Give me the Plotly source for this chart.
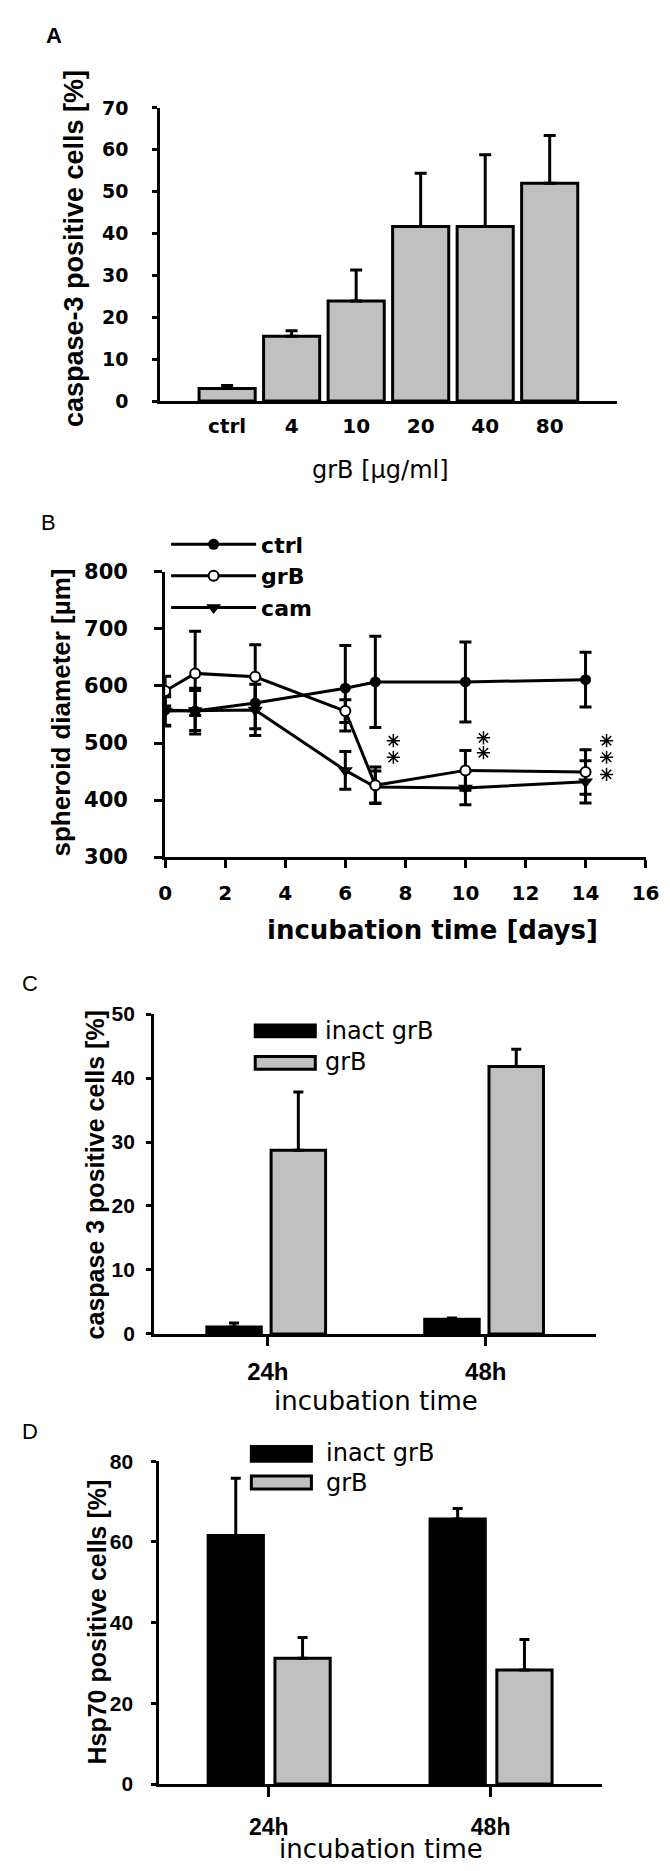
import plotly.graph_objects as go

W, H = 670, 1871

# ---------------- data ----------------
# Panel A
doses = ["ctrl", "4", "10", "20", "40", "80"]
casp_mean = [3.0, 15.5, 23.9, 41.7, 41.7, 52.0]
casp_sd = [0.7, 1.3, 7.4, 12.7, 17.1, 11.4]

# Panel B
days = [0, 1, 3, 6, 7, 10, 14]
ctrl_diam = [558, 556, 570, 596, 607, 607, 611]
ctrl_err = [28, 40, 45, 75, 80, 70, 48]
grb_diam = [591, 622, 616, 556, 426, 452, 449]
grb_err = [26, 74, 56, 20, 32, 35, 39]
cam_diam = [556, 557, 558, 452, 423, 421, 432]
cam_err = [25, 35, 45, 33, 28, 29, 37]
series_names = ["ctrl", "grB", "cam"]
star_days = [7.6, 7.6, 10.6, 10.6, 14.7, 14.7, 14.7]
star_vals = [504, 475, 509, 483, 504, 475, 445]

# Panel C
times = ["24h", "48h"]
c_inact = [1.1, 2.3]
c_inact_err = [0.6, 0.2]
c_grb = [28.7, 41.8]
c_grb_err = [9.1, 2.7]

# Panel D
d_inact = [61.6, 65.7]
d_inact_err = [14.2, 2.6]
d_grb = [31.2, 28.3]
d_grb_err = [5.1, 7.5]

bar_names = ["inact grB", "grB"]

GREY = "#c0c0c0"
BLACK = "black"


def fx(px):
    return px / W


def fy(py):
    return 1 - py / H


fig = go.Figure()

# ---------------- Panel A ----------------
fig.add_trace(go.Bar(
    x=doses, y=casp_mean, xaxis="x", yaxis="y", width=0.87,
    marker=dict(color=GREY, line=dict(color=BLACK, width=3)),
    error_y=dict(type="data", symmetric=False, array=casp_sd,
                 arrayminus=[0] * len(casp_sd), color=BLACK, thickness=3, width=6),
    showlegend=False,
))

# ---------------- Panel B ----------------
line_style = dict(color=BLACK, width=3)
err_style = dict(color=BLACK, thickness=3, width=6)
fig.add_trace(go.Scatter(
    x=days, y=ctrl_diam, xaxis="x2", yaxis="y2", mode="lines+markers",
    name=series_names[0], legendrank=1,
    line=line_style, marker=dict(symbol="circle", size=11, color=BLACK),
    error_y=dict(type="data", array=ctrl_err, **err_style),
))
fig.add_trace(go.Scatter(
    x=days, y=cam_diam, xaxis="x2", yaxis="y2", mode="lines+markers",
    name=series_names[2], legendrank=3,
    line=line_style, marker=dict(symbol="triangle-down", size=13, color=BLACK),
    error_y=dict(type="data", array=cam_err, **err_style),
))
fig.add_trace(go.Scatter(
    x=days, y=grb_diam, xaxis="x2", yaxis="y2", mode="lines+markers",
    name=series_names[1], legendrank=2,
    line=line_style, marker=dict(symbol="circle", size=10, color="white",
                                 line=dict(color=BLACK, width=2)),
    error_y=dict(type="data", array=grb_err, **err_style),
))
fig.add_trace(go.Scatter(
    x=star_days, y=star_vals, xaxis="x2", yaxis="y2", mode="markers",
    marker=dict(symbol="asterisk-open", size=11, color=BLACK,
                line=dict(color=BLACK, width=1.5)),
    showlegend=False, hoverinfo="skip",
))

# ---------------- Panel C ----------------
fig.add_trace(go.Bar(
    x=times, y=c_inact, xaxis="x3", yaxis="y3", offset=-0.28, width=0.25,
    name=bar_names[0], marker=dict(color=BLACK, line=dict(color=BLACK, width=3)),
    error_y=dict(type="data", symmetric=False, array=c_inact_err, arrayminus=[0, 0],
                 color=BLACK, thickness=3, width=5),
    showlegend=False,
))
fig.add_trace(go.Bar(
    x=times, y=c_grb, xaxis="x3", yaxis="y3", offset=0.015, width=0.25,
    name=bar_names[1], marker=dict(color=GREY, line=dict(color=BLACK, width=3)),
    error_y=dict(type="data", symmetric=False, array=c_grb_err, arrayminus=[0, 0],
                 color=BLACK, thickness=3, width=5),
    showlegend=False,
))

# ---------------- Panel D ----------------
fig.add_trace(go.Bar(
    x=times, y=d_inact, xaxis="x4", yaxis="y4", offset=-0.273, width=0.249,
    name=bar_names[0], marker=dict(color=BLACK, line=dict(color=BLACK, width=3)),
    error_y=dict(type="data", symmetric=False, array=d_inact_err, arrayminus=[0, 0],
                 color=BLACK, thickness=3, width=5),
    showlegend=False,
))
fig.add_trace(go.Bar(
    x=times, y=d_grb, xaxis="x4", yaxis="y4", offset=0.028, width=0.249,
    name=bar_names[1], marker=dict(color=GREY, line=dict(color=BLACK, width=3)),
    error_y=dict(type="data", symmetric=False, array=d_grb_err, arrayminus=[0, 0],
                 color=BLACK, thickness=3, width=5),
    showlegend=False,
))

bold_dv = dict(family="DejaVu Sans", size=19, color=BLACK, weight="bold")
bold_ls = dict(family="Liberation Sans, Arial", size=21, color=BLACK, weight="bold")

common = dict(showline=True, linecolor=BLACK, linewidth=3, showgrid=False,
              zeroline=False, fixedrange=True)

layout_axes = dict(
    # A
    xaxis=dict(domain=[fx(150), fx(621)], anchor="y", type="category",
               range=[-1.036, 6.036], ticks="", ticklen=0, tickfont=dict(bold_dv, size=20),
               ticklabelstandoff=5, **common),
    yaxis=dict(domain=[fy(386), fy(89)], anchor="x", range=[0, 70], dtick=10,
               ticks="outside", ticklen=5, tickwidth=3, tickcolor=BLACK,
               tickfont=bold_dv, ticklabelstandoff=20, **common),
    # B
    xaxis2=dict(domain=[fx(155), fx(651)], anchor="y2", range=[0, 16], dtick=2,
                ticks="outside", ticklen=8, tickwidth=3, tickcolor=BLACK,
                tickfont=dict(bold_dv, size=20), ticklabelstandoff=8, **common),
    yaxis2=dict(domain=[fy(848), fy(559)], anchor="x2", range=[300, 800], dtick=100,
                ticks="outside", ticklen=8, tickwidth=3, tickcolor=BLACK,
                tickfont=dict(bold_dv, size=21), ticklabelstandoff=22, **common),
    # C
    xaxis3=dict(domain=[fx(143.6), fx(600)], anchor="y3", type="category",
                range=[-0.522, 1.507], ticks="outside", ticklen=9, tickwidth=3,
                tickcolor=BLACK, tickfont=dict(bold_ls, size=24),
                ticklabelstandoff=5, **common),
    yaxis3=dict(domain=[fy(1331), fy(1007)], anchor="x3", range=[0, 50], dtick=10,
                ticks="outside", ticklen=5, tickwidth=3, tickcolor=BLACK,
                tickfont=bold_ls, ticklabelstandoff=7, **common),
    # D
    xaxis4=dict(domain=[fx(149), fx(606)], anchor="y4", type="category",
                range=[-0.493, 1.502], ticks="outside", ticklen=10, tickwidth=3,
                tickcolor=BLACK, tickfont=dict(bold_ls, size=23),
                ticklabelstandoff=10, **common),
    yaxis4=dict(domain=[fy(1787), fy(1460)], anchor="x4", range=[0, 80], dtick=20,
                ticks="outside", ticklen=5, tickwidth=3, tickcolor=BLACK,
                tickfont=bold_ls, ticklabelstandoff=14, **common),
)


def ann(text, x, y, font, angle=0, xanchor="center"):
    return dict(text=text, x=fx(x), y=fy(y), xref="paper", yref="paper",
                showarrow=False, textangle=angle, font=font,
                xanchor=xanchor, yanchor="middle")


ls = "Liberation Sans, Arial"
annotations = [
    ann("A", 40, 16, dict(family=ls, size=22, color=BLACK, weight="bold")),
    ann("B", 35, 509, dict(family=ls, size=22, color=BLACK)),
    ann("C", 15, 976, dict(family=ls, size=22, color=BLACK)),
    ann("D", 15, 1430, dict(family=ls, size=22, color=BLACK)),
    ann("caspase-3 positive cells [%]", 61, 232,
        dict(family=ls, size=27, color=BLACK, weight="bold"), angle=-90),
    ann("grB [µg/ml]", 377, 456, dict(family="DejaVu Sans", size=24, color=BLACK)),
    ann("spheroid diameter [µm]", 47, 702,
        dict(family=ls, size=26, color=BLACK, weight="bold"), angle=-90),
    ann("incubation time [days]", 431, 922,
        dict(family="DejaVu Sans", size=26, color=BLACK, weight="bold")),
    ann("caspase 3 positive cells [%]", 83, 1170,
        dict(family=ls, size=25, color=BLACK, weight="bold"), angle=-90),
    ann("incubation time", 373, 1399, dict(family="DejaVu Sans", size=26, color=BLACK)),
    ann("Hsp70 positive cells [%]", 85, 1623,
        dict(family=ls, size=25, color=BLACK, weight="bold"), angle=-90),
    ann("incubation time", 378, 1853, dict(family="DejaVu Sans", size=26, color=BLACK)),
    # legends C and D
    ann(bar_names[0], 318, 1024, dict(family="DejaVu Sans", size=24, color=BLACK), xanchor="left"),
    ann(bar_names[1], 318, 1056, dict(family="DejaVu Sans", size=24, color=BLACK), xanchor="left"),
    ann(bar_names[0], 319, 1452, dict(family="DejaVu Sans", size=24, color=BLACK), xanchor="left"),
    ann(bar_names[1], 319, 1482, dict(family="DejaVu Sans", size=24, color=BLACK), xanchor="left"),
]


def rect(x0, y0, x1, y1, fill):
    return dict(type="rect", xref="paper", yref="paper",
                x0=fx(x0), x1=fx(x1), y0=fy(y0), y1=fy(y1),
                fillcolor=fill, line=dict(color=BLACK, width=3))


shapes = [
    rect(248, 1018, 310, 1030, BLACK),
    rect(248, 1050, 310, 1063, GREY),
    rect(244, 1445, 306, 1460, BLACK),
    rect(244, 1475, 306, 1488, GREY),
]

fig.update_layout(
    width=W, height=H, margin=dict(l=0, r=0, t=0, b=0),
    paper_bgcolor="white", plot_bgcolor="white",
    barmode="overlay",
    showlegend=True,
    legend=dict(x=fx(156), y=fy(510), xanchor="left", yanchor="top",
                font=dict(family="DejaVu Sans", size=22, color=BLACK, weight="bold"),
                itemwidth=85, tracegroupgap=2, bgcolor="rgba(0,0,0,0)",
                traceorder="normal"),
    annotations=annotations,
    shapes=shapes,
    **layout_axes,
)

fig.write_html("out.html")
